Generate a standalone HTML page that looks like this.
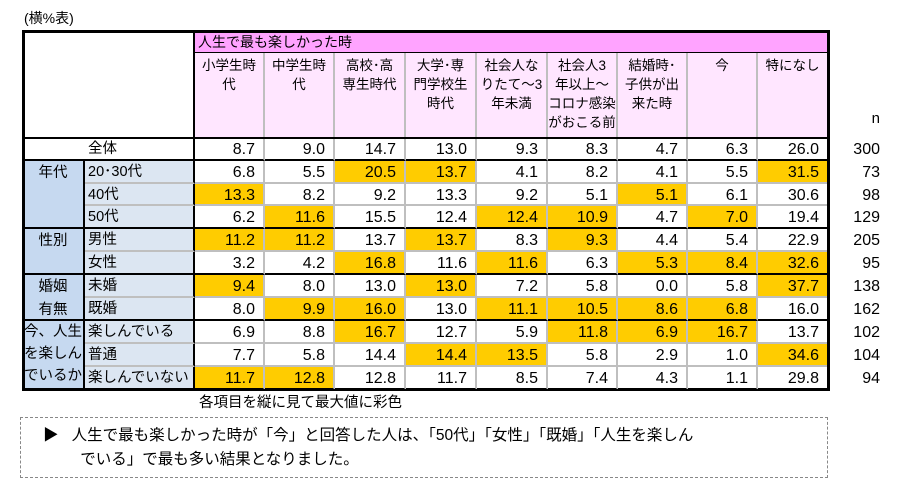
<!DOCTYPE html>
<html><head><meta charset="utf-8"><style>
body{margin:0;width:901px;height:502px;background:#fff;position:relative;overflow:hidden;font-family:"Liberation Sans","Noto Sans CJK JP",sans-serif;color:#000}
.a{position:absolute;box-sizing:border-box}
.num{font-size:16px;text-align:right;padding-right:8px;line-height:23px}
.hd{font-size:13.5px;text-align:center;line-height:19px;padding-top:3px}
.lb{font-size:14.5px;line-height:23px;padding-left:3px}
</style></head><body>
<div class="a" style="left:24px;top:8px;font-size:14px">(横%表)</div>
<div id="tbl"></div>
<div class="a" style="left:199px;top:391px;font-size:14.5px">各項目を縦に見て最大値に彩色</div>
<div class="a" style="left:20px;top:417px;width:808px;height:61px;border:1px dashed #888;font-size:15.5px;line-height:24px;padding:6px 0 0 42px">
<span style="position:absolute;left:22px;top:6px">▶</span><span style="padding-left:34px;margin-left:-34px">&nbsp;&nbsp;人生で最も楽しかった時が「今」と回答した人は、「50代」「女性」「既婚」「人生を楽しん</span><br>&nbsp;&nbsp;&nbsp;&nbsp;でいる」で最も多い結果となりました。</div>
<script>
const columns=["小学生時<br>代","中学生時<br>代","高校･高<br>専生時代","大学･専<br>門学校生<br>時代","社会人な<br>りたて～3<br>年未満","社会人3<br>年以上～<br>コロナ感染<br>がおこる前","結婚時･<br>子供が出<br>来た時","今","特になし"];
const rowLabels=["全体","20･30代","40代","50代","男性","女性","未婚","既婚","楽しんでいる","普通","楽しんでいない"];
const groupNames=["","年代","性別","婚姻<br>有無","今、人生<br>を楽しん<br>でいるか"];
const groupOf=[0,1,1,1,2,2,3,3,4,4,4];
const values=[
[8.7,9.0,14.7,13.0,9.3,8.3,4.7,6.3,26.0],
[6.8,5.5,20.5,13.7,4.1,8.2,4.1,5.5,31.5],
[13.3,8.2,9.2,13.3,9.2,5.1,5.1,6.1,30.6],
[6.2,11.6,15.5,12.4,12.4,10.9,4.7,7.0,19.4],
[11.2,11.2,13.7,13.7,8.3,9.3,4.4,5.4,22.9],
[3.2,4.2,16.8,11.6,11.6,6.3,5.3,8.4,32.6],
[9.4,8.0,13.0,13.0,7.2,5.8,0.0,5.8,37.7],
[8.0,9.9,16.0,13.0,11.1,10.5,8.6,6.8,16.0],
[6.9,8.8,16.7,12.7,5.9,11.8,6.9,16.7,13.7],
[7.7,5.8,14.4,14.4,13.5,5.8,2.9,1.0,34.6],
[11.7,12.8,12.8,11.7,8.5,7.4,4.3,1.1,29.8]];
const nValues=[300,73,98,129,205,95,138,162,102,104,94];
const X=[23,85,195,265,335,406,477,548,618,688,758,829];
const Y=[138,161,184,206,229,252,275,298,321,344,367,390];
const t=document.getElementById('tbl');
function box(x,y,w,h,cls,html,st){const d=document.createElement('div');d.className='a '+cls;d.style.cssText=`left:${x}px;top:${y}px;width:${w}px;height:${h}px;`+(st||'');d.innerHTML=html;t.appendChild(d);return d;}
// header
let e=box(195,31,634,22,'lb','人生で最も楽しかった時','background:#ffa3ff;font-size:14px;line-height:22px;border-bottom:1px solid #000');


columns.forEach((c,i)=>{const d=box(X[i+2],53,X[i+3]-X[i+2],85,'hd',c,'background:#ffe6ff;border-right:2px solid #bfbfbf');

});
e=box(850,110,30,22,'','n','font-size:15px;text-align:right');


// group col
const gStart={};groupOf.forEach((g,i)=>{if(!(g in gStart))gStart[g]=i;});
Object.keys(gStart).forEach(g=>{g=+g;if(g===0)return;const s=gStart[g];const e2=groupOf.lastIndexOf(g);
const d=box(X[0],Y[s],X[1]-X[0],Y[e2+1]-Y[s],'',groupNames[g],'background:#c6d9f0;border-bottom:2px solid #000;border-right:2px solid #000;text-align:center;font-size:14.5px;line-height:'+(g===4?22:23)+'px;padding-top:'+(g===4?0:1)+'px');

});
// max per group column
const isMax=values.map(()=>columns.map(()=>false));
Object.keys(gStart).forEach(g=>{g=+g;if(g===0)return;const rows=groupOf.map((x,i)=>x===g?i:-1).filter(i=>i>=0);
columns.forEach((_,c)=>{let best=rows[0];rows.forEach(r=>{if(values[r][c]>values[best][c])best=r;});isMax[best][c]=true;});});
rowLabels.forEach((lab,r)=>{const y=Y[r],h=Y[r+1]-Y[r];const last=r===0||groupOf[r+1]!==groupOf[r];
const bb=last?'border-bottom:2px solid #000;':'border-bottom:2px solid #bfbfbf;';
const lx=r===0?X[0]:X[1];
const l=box(lx,y,X[2]-lx,h,'lb',(r===0?'<span style="padding-left:62px">':'<span>')+lab+'</span>',(r===0?'':'background:#dce6f2;')+bb+'border-right:2px solid #000');


values[r].forEach((v,c)=>{const d=box(X[c+2],y,X[c+3]-X[c+2],h,'num',v.toFixed(1),(isMax[r][c]?'background:#ffcc00;':'')+bb+'border-right:2px solid #bfbfbf');

});
const n=box(846,y,34,h,'',String(nValues[r]),'font-size:16px;text-align:right;line-height:23px');

});
// outer frame
e=box(22,30,808,361,'','','border:3px solid #000;border-bottom:2px solid #000;pointer-events:none');


e=box(193,30,2,108,'','','background:#000');


e=box(22,137,808,2,'','','background:#000');


</script>
</body></html>
